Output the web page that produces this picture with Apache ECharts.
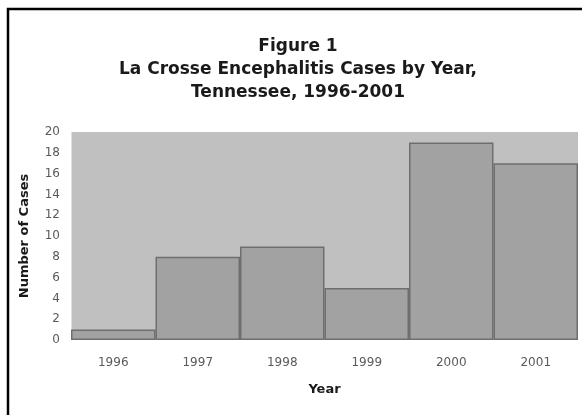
<!DOCTYPE html>
<html><head><meta charset="utf-8">
<script src="https://cdn.jsdelivr.net/npm/echarts@6/dist/echarts.min.js"></script>
<style>html,body{margin:0;padding:0;background:#fff}#c{width:582px;height:415px}</style>
</head><body><div id="c"></div>
<script>
const years = ['1996','1997','1998','1999','2000','2001'];
const cases = [1, 8, 9, 5, 19, 17];
const titleLines = ['Figure 1', 'La Crosse Encephalitis Cases by Year,', 'Tennessee, 1996-2001'];

const chart = echarts.init(document.getElementById('c'), null, {renderer:'canvas'});
chart.setOption({
  animation:false,
  backgroundColor:'#fff',
  title:{
    text: titleLines.join('\n'),
    left: 293, textAlign:'center', top: 30,
    textStyle:{fontFamily:'DejaVu Sans', fontWeight:'bold', fontSize:17, lineHeight:23, color:'#1a1a1a'}
  },
  graphic:[{type:'rect', shape:{x:8, y:9, width:620, height:450}, style:{fill:'none', stroke:'#000', lineWidth:2.5}, silent:true}],
  grid:{left:71, right:4, top:132, bottom:75, show:true, backgroundColor:'#c0c0c0', borderWidth:0},
  xAxis:{
    type:'category', data:years,
    name:'Year', nameLocation:'middle', nameGap:43,
    nameTextStyle:{fontFamily:'DejaVu Sans', fontWeight:'bold', fontSize:13, color:'#1a1a1a'},
    axisLine:{show:false}, axisTick:{show:false},
    axisLabel:{margin:17, fontFamily:'DejaVu Sans', fontSize:12, color:'#5a5a5a'}
  },
  yAxis:{
    type:'value', min:0, max:20, interval:2,
    name:'Number of Cases', nameLocation:'middle', nameGap:40,
    nameTextStyle:{fontFamily:'DejaVu Sans', fontWeight:'bold', fontSize:13, color:'#1a1a1a'},
    axisLine:{show:true, lineStyle:{color:'#e0e0e0'}}, axisTick:{show:false},
    splitLine:{show:false},
    axisLabel:{margin:11, fontFamily:'DejaVu Sans', fontSize:12, color:'#5a5a5a'}
  },
  series:[{
    type:'bar', data:cases, barCategoryGap:'0%',
    itemStyle:{color:'#a2a2a2', borderColor:'#6e6e6e', borderWidth:1.5}
  }]
});
</script></body></html>
